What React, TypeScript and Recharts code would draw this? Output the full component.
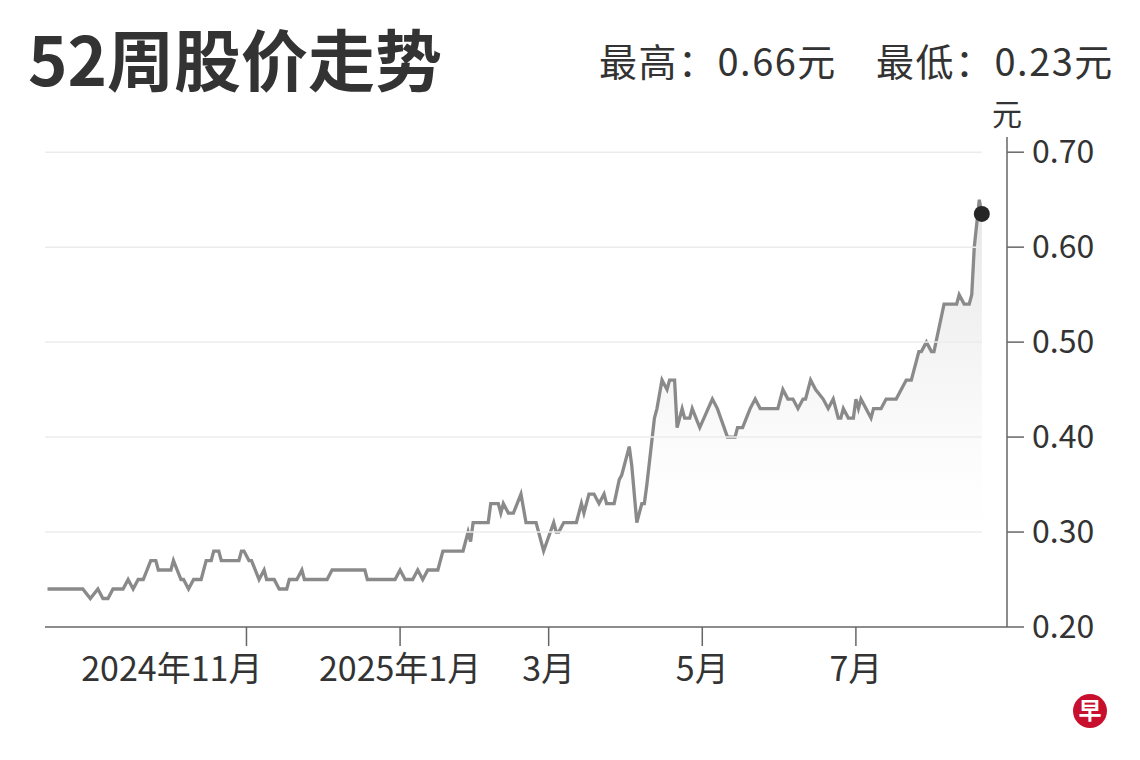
import React from 'react';
import { ComposedChart, Area, XAxis, YAxis, ReferenceLine, ReferenceDot } from 'recharts';

// days since 2024-11-01
const dayOffsets = [
  -79, -65, -62, -59, -57, -55, -53, -49, -47, -45, -43, -41, -38, -36, -35, -30, -29, -26, -25, -23,
  -21, -18, -16, -14, -13, -11, -10, -3, -2, -1, 1, 2, 5, 7, 8, 11, 13, 16, 17, 20,
  22, 23, 32, 34, 47, 48, 59, 61, 63, 66, 68, 70, 72, 76, 78, 86, 88, 89, 90, 96,
  97, 100, 101, 102, 104, 106, 109, 111, 115, 118, 122, 123, 124, 126, 131, 133, 134, 136, 138, 140,
  142, 143, 146, 148, 149, 152, 153, 155, 157, 158, 159, 162, 163, 165, 167, 168, 170, 171, 173, 174,
  176, 177, 180, 185, 187, 191, 194, 195, 197, 200, 202, 204, 211, 213, 215, 217, 219, 221, 222, 224,
  226, 229, 231, 233, 235, 236, 237, 239, 241, 242, 243, 244, 248, 249, 252, 254, 258, 260, 262, 264,
  267, 268, 270, 272, 273, 277, 282, 283, 285, 287, 288, 289, 291, 292,
];
const prices = [
  0.24, 0.24, 0.23, 0.24, 0.23, 0.23, 0.24, 0.24, 0.25, 0.24, 0.25, 0.25, 0.27, 0.27, 0.26, 0.26, 0.27, 0.25, 0.25, 0.24,
  0.25, 0.25, 0.27, 0.27, 0.28, 0.28, 0.27, 0.27, 0.28, 0.28, 0.27, 0.27, 0.25, 0.26, 0.25, 0.25, 0.24, 0.24, 0.25, 0.25,
  0.26, 0.25, 0.25, 0.26, 0.26, 0.25, 0.25, 0.26, 0.25, 0.25, 0.26, 0.25, 0.26, 0.26, 0.28, 0.28, 0.30, 0.29, 0.31, 0.31,
  0.33, 0.33, 0.32, 0.33, 0.32, 0.32, 0.34, 0.31, 0.31, 0.28, 0.31, 0.30, 0.30, 0.31, 0.31, 0.33, 0.32, 0.34, 0.34, 0.33,
  0.34, 0.33, 0.33, 0.355, 0.36, 0.39, 0.37, 0.31, 0.33, 0.33, 0.35, 0.42, 0.43, 0.46, 0.45, 0.46, 0.46, 0.41, 0.43, 0.42,
  0.42, 0.43, 0.41, 0.44, 0.43, 0.40, 0.40, 0.41, 0.41, 0.43, 0.44, 0.43, 0.43, 0.45, 0.44, 0.44, 0.43, 0.44, 0.44, 0.46,
  0.45, 0.44, 0.43, 0.44, 0.42, 0.42, 0.43, 0.42, 0.42, 0.44, 0.43, 0.44, 0.42, 0.43, 0.43, 0.44, 0.44, 0.45, 0.46, 0.46,
  0.49, 0.49, 0.50, 0.49, 0.49, 0.54, 0.54, 0.55, 0.54, 0.54, 0.55, 0.60, 0.65, 0.635,
];

const xTickDays = [0, 61, 120, 181, 242];
const xTickLabels = ['2024年11月', '2025年1月', '3月', '5月', '7月'];
const yTicks = [0.2, 0.3, 0.4, 0.5, 0.6, 0.7];
const gridValues = [0.3, 0.4, 0.5, 0.6, 0.7];

const title = '52周股价走势';
const highText = '最高：0.66元';
const lowText = '最低：0.23元';
const unitText = '元';

const data = dayOffsets.map((d, i) => ({ d, p: prices[i] }));
const FONT = '"Noto Sans CJK SC", "Noto Sans", sans-serif';
const lastD = dayOffsets[dayOffsets.length - 1];
const lastP = prices[prices.length - 1];
const firstD = -80;

const XTick = (props: any) => {
  const { x, payload, index } = props;
  const label = xTickLabels[xTickDays.indexOf(payload.value)] ?? '';
  const first = index === 0;
  return (
    <text
      x={first ? x + 16 : x}
      y={681}
      textAnchor={first ? 'end' : 'middle'}
      fontSize={34}
      fill="#333"
      fontFamily={FONT}
    >
      {label}
    </text>
  );
};

const YTick = (props: any) => {
  const { y, payload } = props;
  return (
    <text x={1032} y={y} dy={11} textAnchor="start" fontSize={32} fill="#333" fontFamily={FONT}>
      {Number(payload.value).toFixed(2)}
    </text>
  );
};

export default function App() {
  return (
    <div style={{ position: 'absolute', left: 0, top: 0, width: 1140, height: 760, background: '#fff', overflow: 'hidden' }}>
      <svg width={1140} height={145} style={{ position: 'absolute', left: 0, top: 0 }}>
        <text x={28} y={86} fontSize={67} fontWeight={700} fill="#333" fontFamily={FONT}>{title}</text>
        <text x={599} y={76} fontSize={38} letterSpacing={1.5} fill="#333" fontFamily={FONT}>{highText}</text>
        <text x={876} y={76} fontSize={38} letterSpacing={1.5} fill="#333" fontFamily={FONT}>{lowText}</text>
        <text x={1007} y={125} fontSize={30} fill="#333" textAnchor="middle" fontFamily={FONT}>{unitText}</text>
      </svg>
      <div style={{ position: 'absolute', left: 0, top: 0 }}>
        <ComposedChart width={1140} height={760} data={data} margin={{ top: 137, right: 33, bottom: 73, left: 45 }}>
          <defs>
            <linearGradient id="areaFill" x1="0" y1="0" x2="0" y2="1">
              <stop offset="0%" stopColor="#cfcfcf" stopOpacity={0.9} />
              <stop offset="45%" stopColor="#ececec" stopOpacity={0.7} />
              <stop offset="85%" stopColor="#ffffff" stopOpacity={0} />
            </linearGradient>
          </defs>
          {gridValues.map((v) => (
            <ReferenceLine
              key={v}
              segment={[{ x: firstD, y: v }, { x: lastD, y: v }]}
              stroke="#ececec"
              strokeWidth={1.5}
              ifOverflow="extendDomain"
            />
          ))}
          <XAxis
            dataKey="d"
            type="number"
            domain={[-80, 302]}
            ticks={xTickDays}
            interval={0}
            height={60}
            axisLine={{ stroke: '#666', strokeWidth: 1.5 }}
            tickLine={{ stroke: '#666', strokeWidth: 1.5 }}
            tickSize={19}
            tick={<XTick />}
            allowDataOverflow
          />
          <YAxis
            orientation="right"
            type="number"
            domain={[0.2, 0.716]}
            ticks={yTicks}
            interval={0}
            width={100}
            axisLine={{ stroke: '#666', strokeWidth: 1.5 }}
            tickLine={{ stroke: '#666', strokeWidth: 1.5 }}
            tickSize={17}
            tick={<YTick />}
            allowDataOverflow
          />
          <Area
            type="linear"
            dataKey="p"
            stroke="#8a8a8a"
            strokeWidth={3.3}
            fill="url(#areaFill)"
            baseValue={0.2}
            dot={false}
            activeDot={false}
            isAnimationActive={false}
          />
          <ReferenceDot x={lastD} y={lastP} r={8} fill="#262626" stroke="none" />
        </ComposedChart>
      </div>
      <svg width={60} height={60} style={{ position: 'absolute', left: 1060, top: 681 }}>
        <circle cx={30} cy={30} r={17} fill="#c8102e" />
        <text x={30} y={38} textAnchor="middle" fontSize={23} fontWeight={700} fill="#fff" fontFamily={FONT}>早</text>
      </svg>
    </div>
  );
}
